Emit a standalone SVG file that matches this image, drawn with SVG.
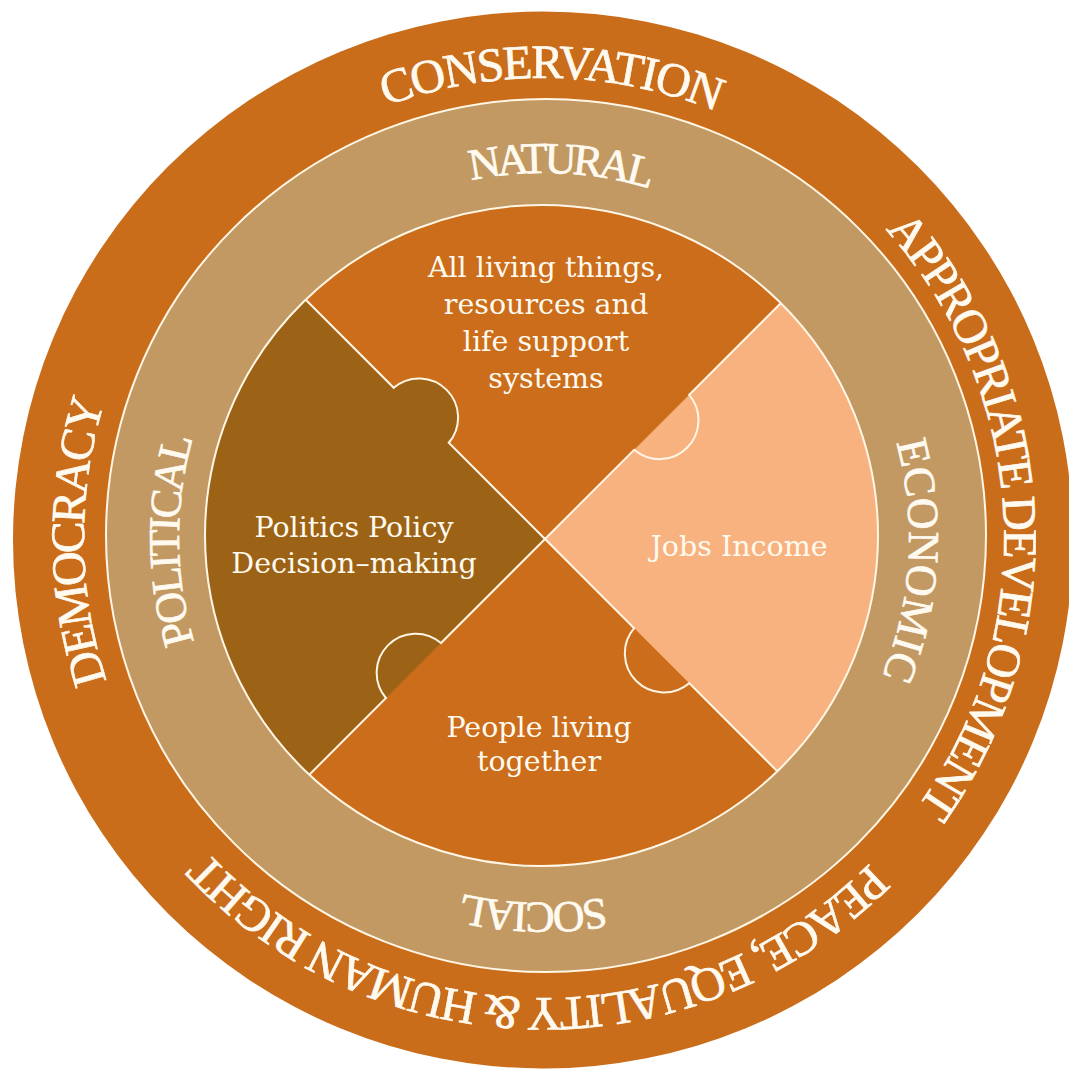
<svg xmlns="http://www.w3.org/2000/svg" width="1069" height="1070" viewBox="0 0 1069 1070">
<style>
.ringtxt{font-family:"Liberation Serif","Times New Roman",serif;fill:#FFFAF0;stroke:#FFFAF0;stroke-width:0.7;text-anchor:middle}
.outer{font-size:48px}
.mid{font-size:44px}
.ptxt{font-family:"DejaVu Serif","Liberation Serif",serif;font-size:28.5px;fill:#FFFAF0;text-anchor:middle}
.seam{fill:none;stroke:#FFF6E6;stroke-width:2}
</style>
<defs>
<clipPath id="innerClip"><ellipse cx="541.5" cy="535.5" rx="336.5" ry="330.5"/></clipPath>
<path id="outerPath" d="M145.6,768 A460,460 0 0 1 942.4,308 A460,460 0 0 1 145.6,768"/>
<path id="midPath" d="M227.9,720.5 A365,365 0 0 1 860.1,355.5 A365,365 0 0 1 227.9,720.5"/>
</defs>
<rect width="1069" height="1070" fill="#FFFFFF"/>
<g id="outer-ring">
<ellipse cx="543" cy="540" rx="530" ry="528.5" fill="#CA6D1B"/>
<text class="ringtxt outer" letter-spacing="-1.8"><textPath href="#outerPath" startOffset="33.58%">CONSERVATION</textPath></text>
<text class="ringtxt outer" letter-spacing="-2.7"><textPath href="#outerPath" startOffset="57.4%">APPROPRIATE DEVELOPMENT</textPath></text>
<text class="ringtxt outer" letter-spacing="-2.8"><textPath href="#outerPath" startOffset="83.56%">PEACE, EQUALITY &amp; HUMAN RIGHT</textPath></text>
<text class="ringtxt outer" letter-spacing="-2.9"><textPath href="#outerPath" startOffset="8.17%">DEMOCRACY</textPath></text>
</g>
<g id="middle-ring">
<ellipse cx="546" cy="535.5" rx="440" ry="436.5" fill="#C29963" stroke="#FFF6E6" stroke-width="2"/>
<text class="ringtxt mid" letter-spacing="-4"><textPath href="#midPath" startOffset="34%">NATURAL</textPath></text>
<text class="ringtxt mid" letter-spacing="0.5"><textPath href="#midPath" startOffset="59.33%">ECONOMIC</textPath></text>
<text class="ringtxt mid" letter-spacing="-3"><textPath href="#midPath" startOffset="83.75%">SOCIAL</textPath></text>
<text class="ringtxt mid" letter-spacing="-2.6"><textPath href="#midPath" startOffset="8.19%">POLITICAL</textPath></text>
</g>
<g clip-path="url(#innerClip)">
<g id="natural">
<polygon points="545,539 -55,-61 1145,-61" fill="#CB6D1A"/>
<circle cx="659.55" cy="420.21" r="39" fill="#CB6D1A"/>
</g>
<g id="economic">
<polygon points="545,539 1145,-61 1145,1139" fill="#F8B27F"/>
<circle cx="663.79" cy="653.55" r="39" fill="#F8B27F"/>
</g>
<g id="social">
<polygon points="545,539 1145,1139 -55,1139" fill="#CB6D1A"/>
<circle cx="415.6" cy="672.64" r="39" fill="#CB6D1A"/>
</g>
<g id="political">
<polygon points="545,539 -55,1139 -55,-61" fill="#9C6316"/>
<circle cx="419.14" cy="417.38" r="39" fill="#9C6316"/>
</g>
<g id="connectors">
<path class="seam" d="M545,539 L448.75,442.75 A39,39 0 0 0 393.77,387.77 L290,284"/>
<path class="seam" d="M545,539 L634.18,449.82 A39,39 0 0 0 689.16,394.84 L800,284"/>
<path class="seam" d="M545,539 L440.97,643.03 A39,39 0 0 0 385.99,698.01 L290,794"/>
<path class="seam" d="M545,539 L634.18,628.18 A39,39 0 0 0 689.16,683.16 L800,794"/>
</g>
</g>
<ellipse cx="541.5" cy="535.5" rx="336.5" ry="330.5" fill="none" stroke="#FFF6E6" stroke-width="2"/>
<g id="natural-label">
<text class="ptxt" x="546" y="277">All living things,</text>
<text class="ptxt" x="546" y="314">resources and</text>
<text class="ptxt" x="546" y="351">life support</text>
<text class="ptxt" x="546" y="388">systems</text>
</g>
<g id="political-label">
<text class="ptxt" x="354" y="537">Politics Policy</text>
<text class="ptxt" x="354" y="573">Decision–making</text>
</g>
<g id="economic-label">
<text class="ptxt" x="739" y="556">Jobs Income</text>
</g>
<g id="social-label">
<text class="ptxt" x="539" y="737">People living</text>
<text class="ptxt" x="539" y="771">together</text>
</g>
</svg>
